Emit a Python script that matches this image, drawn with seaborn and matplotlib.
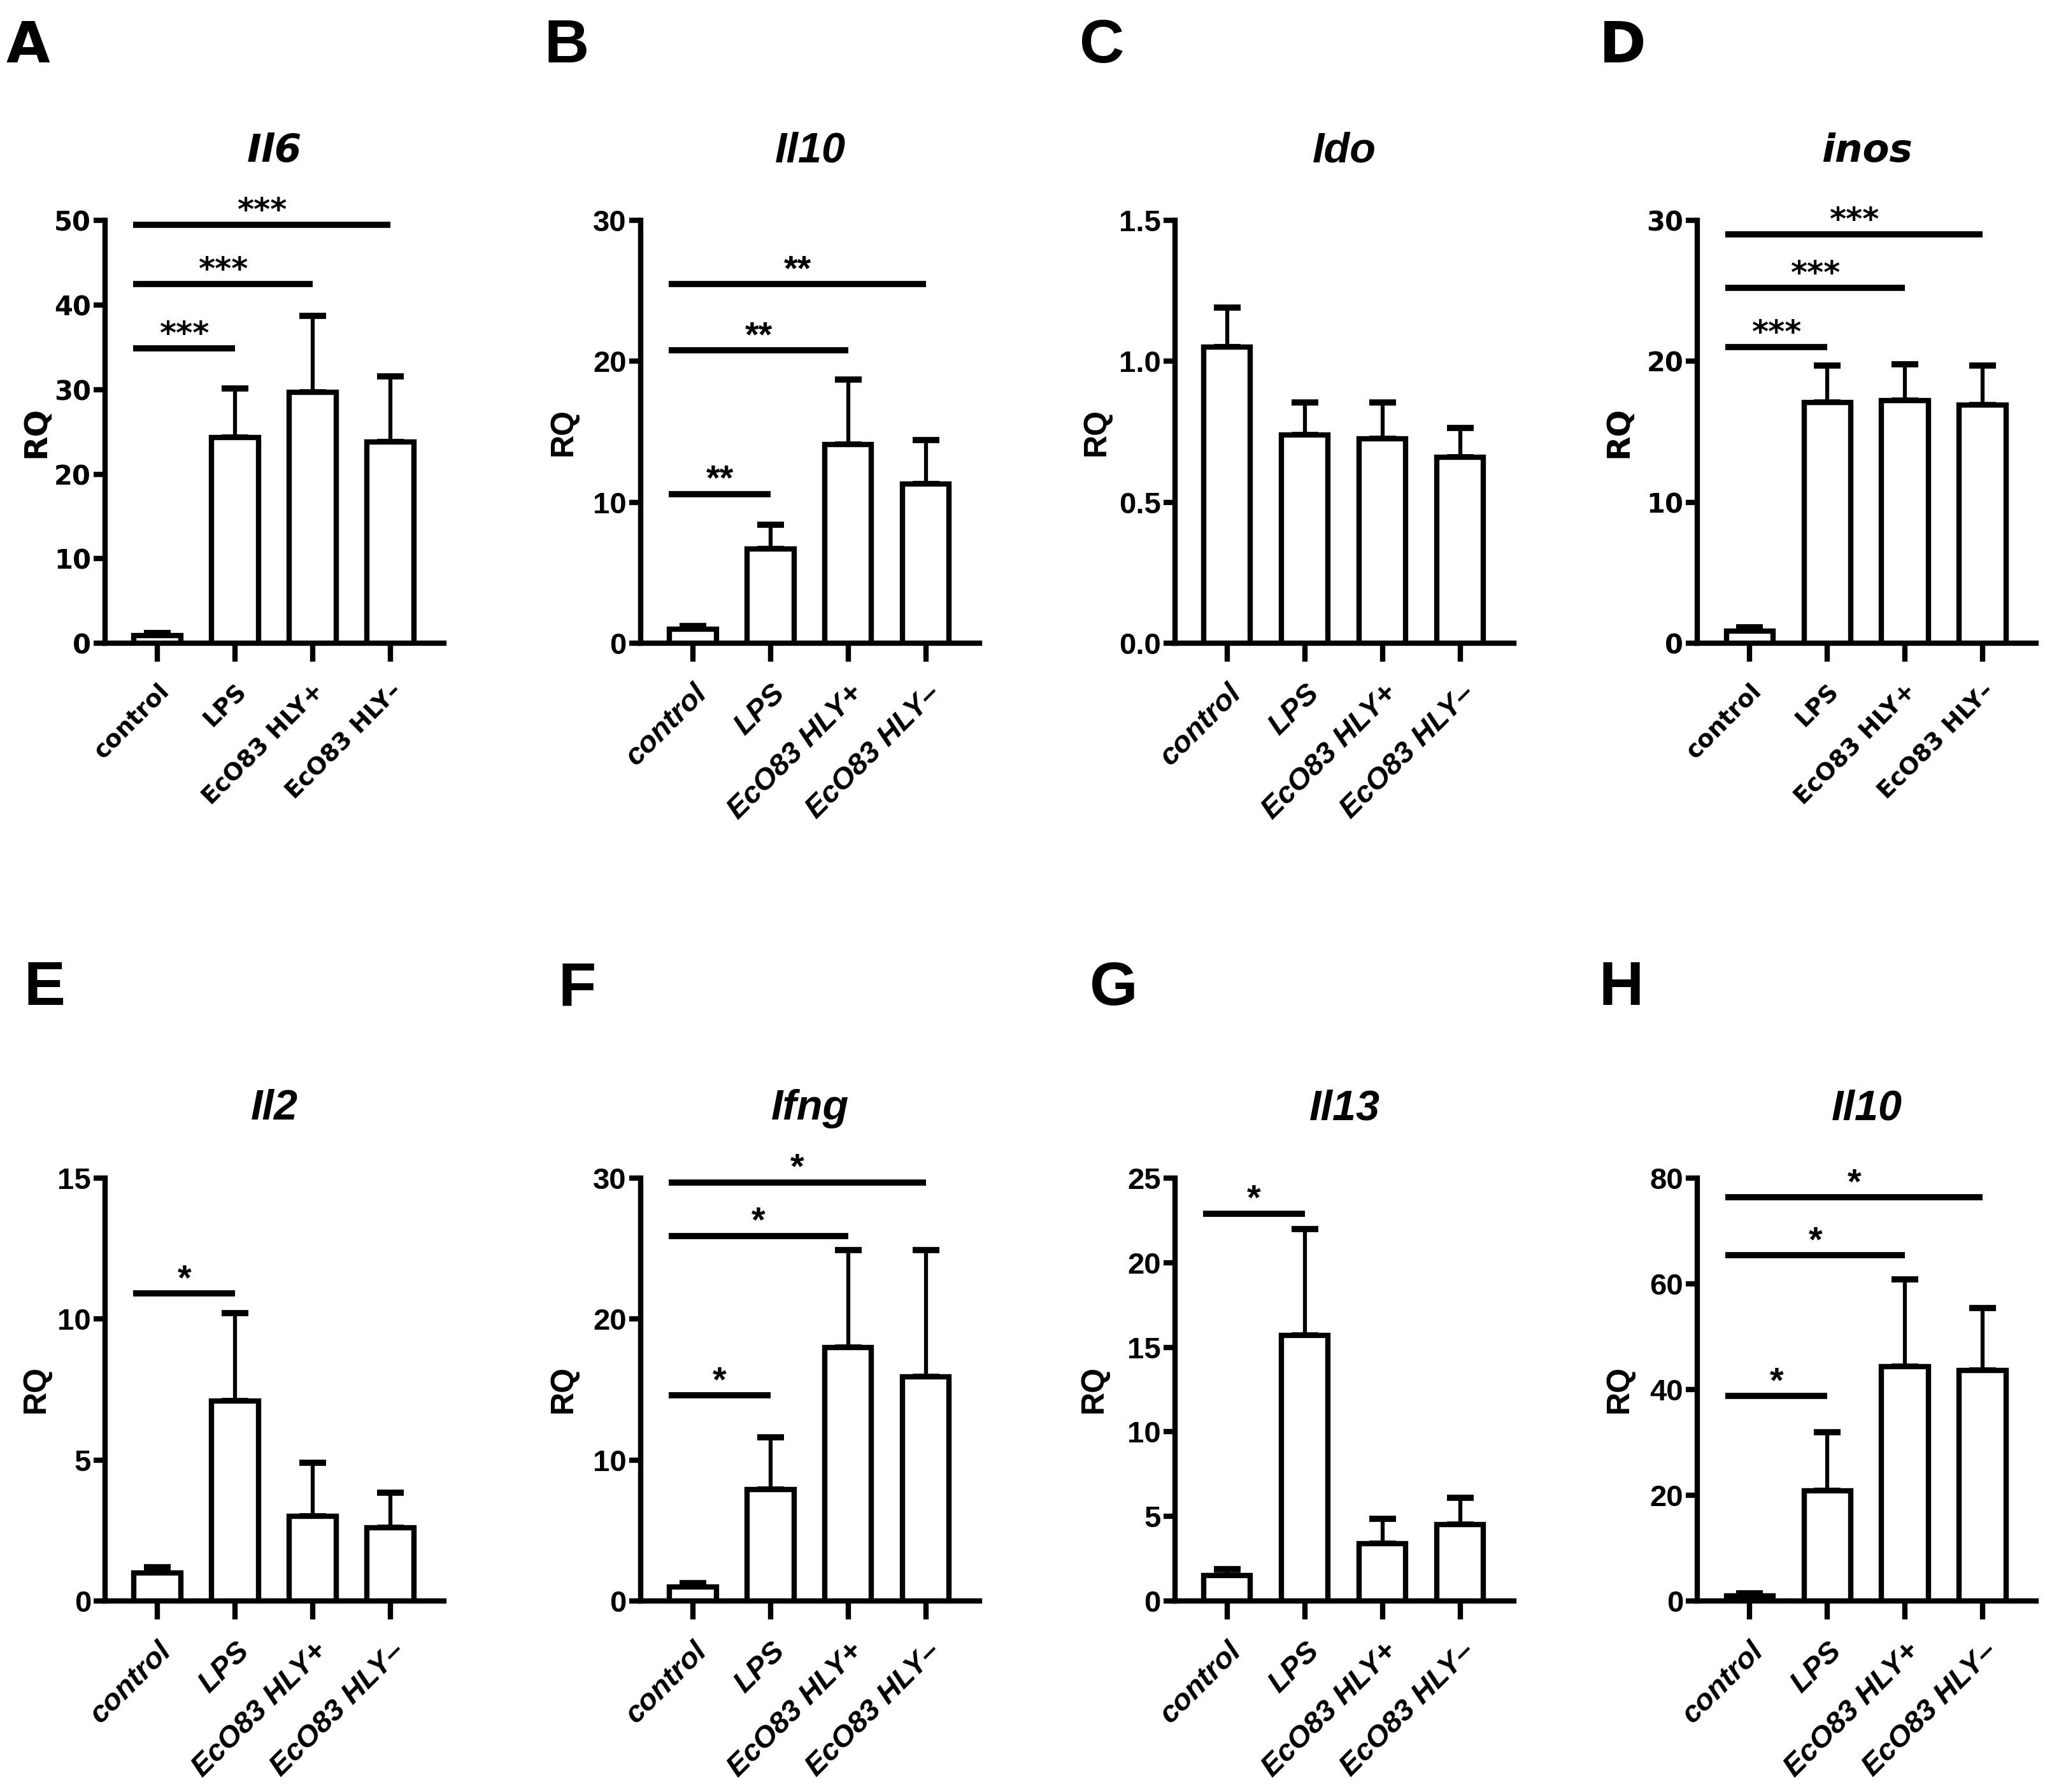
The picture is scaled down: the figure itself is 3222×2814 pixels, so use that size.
import matplotlib
matplotlib.use('Agg')
import matplotlib.pyplot as plt
from matplotlib import font_manager
import seaborn as sns
import numpy as np
import pandas as pd

# groups on the x axis of every panel
groups = ['control', 'LPS', 'EcO83 HLY+', 'EcO83 HLY\u2013']

# mean RQ and SEM
il6_mean = [0.9, 24.3, 29.7, 23.8]
il6_sem = [0.3, 5.8, 9.0, 7.8]
il10a_mean = [1.0, 6.7, 14.1, 11.3]
il10a_sem = [0.25, 1.7, 4.6, 3.1]
ido_mean = [1.05, 0.74, 0.725, 0.66]
ido_sem = [0.14, 0.115, 0.13, 0.105]
inos_mean = [0.85, 17.1, 17.2, 16.9]
inos_sem = [0.3, 2.6, 2.6, 2.8]
il2_mean = [1.0, 7.1, 3.0, 2.6]
il2_sem = [0.2, 3.1, 1.9, 1.25]
ifng_mean = [1.0, 7.9, 18.0, 15.9]
ifng_sem = [0.25, 3.7, 6.9, 9.0]
il13_mean = [1.5, 15.7, 3.4, 4.5]
il13_sem = [0.4, 6.3, 1.45, 1.6]
il10b_mean = [1.0, 20.8, 44.3, 43.6]
il10b_sem = [0.4, 11.1, 16.5, 11.8]

# significance bars: (target group index, height, label), all start at control
il6_sig = [(1, 34.9, '***'), (2, 42.5, '***'), (3, 49.5, '***')]
il10a_sig = [(1, 10.6, '**'), (2, 20.8, '**'), (3, 25.5, '**')]
inos_sig = [(1, 21.0, '***'), (2, 25.2, '***'), (3, 29.0, '***')]
il2_sig = [(1, 10.9, '*')]
ifng_sig = [(1, 14.6, '*'), (2, 25.9, '*'), (3, 29.7, '*')]
il13_sig = [(1, 22.9, '*')]
il10b_sig = [(1, 38.8, '*'), (2, 65.4, '*'), (3, 76.4, '*')]


def pick_font(names):
    for n in names:
        try:
            font_manager.findfont(font_manager.FontProperties(family=n), fallback_to_default=False)
            return n
        except ValueError:
            pass
    return 'DejaVu Sans'


sns.set_style('ticks')
NARROW = pick_font(['Liberation Sans Narrow', 'Liberation Sans'])
WIDE = 'DejaVu Sans'
plt.rcParams['font.family'] = [NARROW, 'DejaVu Sans']
plt.rcParams['axes.facecolor'] = 'white'
for k in ['text.color', 'axes.labelcolor', 'xtick.color', 'ytick.color', 'axes.edgecolor']:
    plt.rcParams[k] = 'black'

fig = plt.figure(figsize=(32.23, 28.14), dpi=100)

cols = [0.0513, 0.3122, 0.5725, 0.827]
rows = [0.641, 0.1066]
W, H = 0.165, 0.236
LW = 6

panels = [
    # letter, title, mean, sem, ymax, step, sigs, wide font, row, col, letter x, ylabel x
    ('A', 'Il6', il6_mean, il6_sem, 50, 10, il6_sig, True, 0, 0, 0.003, -0.205),
    ('B', 'Il10', il10a_mean, il10a_sem, 30, 10, il10a_sig, False, 0, 1, 0.265, -0.229),
    ('C', 'Ido', ido_mean, ido_sem, 1.5, 0.5, [], False, 0, 2, 0.526, -0.233),
    ('D', 'inos', inos_mean, inos_sem, 30, 10, inos_sig, True, 0, 3, 0.779, -0.233),
    ('E', 'Il2', il2_mean, il2_sem, 15, 5, il2_sig, False, 1, 0, 0.0115, -0.205),
    ('F', 'Ifng', ifng_mean, ifng_sem, 30, 10, ifng_sig, False, 1, 1, 0.272, -0.229),
    ('G', 'Il13', il13_mean, il13_sem, 25, 5, il13_sig, False, 1, 2, 0.531, -0.24),
    ('H', 'Il10', il10b_mean, il10b_sem, 80, 20, il10b_sig, False, 1, 3, 0.779, -0.23),
]

letter_y = [0.974, 0.448]

for letter, title, mean, sem, ymax, step, sigs, wide, r, c, lx, ylx in panels:
    fam = WIDE if wide else NARROW
    ax = fig.add_axes([cols[c], rows[r], W, H])
    df = pd.DataFrame({'group': groups, 'RQ': mean})
    sns.barplot(data=df, x='group', y='RQ', color='white', edgecolor='black',
                linewidth=LW, width=0.6, saturation=1, errorbar=None, ax=ax, zorder=3)
    ax.errorbar(np.arange(len(groups)), mean, yerr=[np.zeros(len(sem)), sem], fmt='none',
                ecolor='black', elinewidth=4.5, capsize=15, capthick=7, zorder=2)

    for tgt, y, lab in sigs:
        x0 = -0.31
        ax.plot([x0, tgt], [y, y], color='black', lw=7, solid_capstyle='butt',
                clip_on=False, zorder=4)
        ax.annotate(lab, xy=((x0 + tgt) / 2, y), xytext=(0, 5), textcoords='offset points',
                    ha='center', va='baseline', fontsize=40 if not wide else 36,
                    fontweight='bold', family=fam, annotation_clip=False)

    ax.set_xlim(-0.67, 3.69)
    ax.set_ylim(0, ymax)
    ticks = np.arange(0, ymax + step / 2, step)
    ax.set_yticks(ticks)
    if step < 1:
        ax.set_yticklabels([f'{t:.1f}' for t in ticks])
    else:
        ax.set_yticklabels([f'{t:.0f}' for t in ticks])

    for s in ['top', 'right']:
        ax.spines[s].set_visible(False)
    for s in ['left', 'bottom']:
        ax.spines[s].set_linewidth(LW)
    ax.tick_params(axis='x', length=21, width=LW, pad=20)
    ax.tick_params(axis='y', length=13, width=LW, pad=3)

    for lbl in ax.get_yticklabels():
        lbl.set_family(fam)
        lbl.set_fontweight('bold')
        lbl.set_fontsize(30 if wide else 34)
    ax.set_xticks(range(len(groups)))
    ax.set_xticklabels(groups, rotation=45, ha='right', va='top', rotation_mode='anchor')
    for lbl in ax.get_xticklabels():
        lbl.set_family(fam)
        lbl.set_fontweight('bold')
        lbl.set_fontsize(27 if wide else 34)
        lbl.set_style('normal' if wide else 'italic')

    ax.set_xlabel('')
    ax.set_ylabel('RQ', fontsize=36, fontweight='bold', family=WIDE if wide else 'Liberation Sans',
                  va='center')
    ax.yaxis.set_label_coords(ylx, 0.5)
    ax.set_title(title, fontsize=44 if wide else 48, fontweight='bold', style='italic',
                 family=fam, pad=66)

    fig.text(lx, letter_y[r], letter, fontsize=64 if wide else 70, fontweight='bold',
             family=fam, ha='left', va='center')

fig.savefig('out.png', dpi=100, facecolor='white')
